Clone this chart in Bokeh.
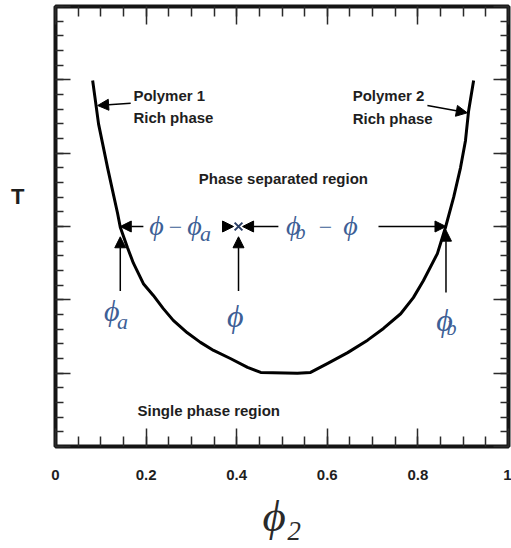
import numpy as np
from bokeh.plotting import figure
from bokeh.models import (Range1d, LinearAxis, FixedTicker, Arrow, NormalHead, Label,
                          CustomLabelingPolicy)
from bokeh.embed import file_html
from bokeh.resources import INLINE

# ---------------- data ----------------
phi_curve = [0.082, 0.088, 0.095, 0.104, 0.115, 0.126, 0.137, 0.143, 0.159, 0.172,
             0.194, 0.216, 0.238, 0.260, 0.291, 0.320, 0.349, 0.386, 0.424, 0.453,
             0.534, 0.563, 0.600, 0.645, 0.689, 0.724, 0.762, 0.790, 0.812, 0.843,
             0.861, 0.879, 0.894, 0.905, 0.912, 0.923]
T_curve = [4.99, 4.72, 4.40, 4.13, 3.80, 3.49, 3.18, 2.99, 2.71, 2.50,
           2.22, 2.06, 1.88, 1.72, 1.55, 1.42, 1.31, 1.20, 1.08, 1.01,
           1.00, 1.01, 1.13, 1.28, 1.45, 1.61, 1.81, 2.03, 2.26, 2.63,
           2.99, 3.40, 3.80, 4.17, 4.58, 4.99]

x_ticks = [0, 0.2, 0.4, 0.6, 0.8, 1.0]
x_tick_labels = ["0", "0.2", "0.4", "0.6", "0.8", "1"]
x_minor = [round(i * 0.05, 2) for i in range(21)]
y_ticks = [0, 1, 2, 3, 4, 5, 6]
y_minor = [round(i * 0.2, 2) for i in range(31)]

phi_a = 0.143
phi_mid = 0.404
phi_b = 0.862
T_tie = 3.0

# ---------------- styles ----------------
SANS = "Liberation Sans"
SERIF = "Liberation Serif"
BLUE = "#3e5f96"
INK = "#1e1e1e"
PHI = "ϕ"

p = figure(width=511, height=548, x_range=Range1d(0, 1), y_range=Range1d(0, 6),
           output_backend="svg", toolbar_location=None,
           x_axis_location=None, y_axis_location=None,
           min_border_left=55, min_border_right=3, min_border_top=6, min_border_bottom=102,
           background_fill_color="white", border_fill_color="white")
p.outline_line_color = "#141414"
p.outline_line_width = 4
p.grid.visible = False

no_labels = CustomLabelingPolicy(code="return []")


def style_axis(ax, major_in, minor_in, show_labels=False):
    ax.axis_line_color = None
    ax.major_tick_in = major_in
    ax.major_tick_out = 0
    ax.minor_tick_in = minor_in
    ax.minor_tick_out = 0
    ax.major_tick_line_color = "#2a2a2a"
    ax.minor_tick_line_color = "#2a2a2a"
    ax.major_tick_line_width = 1.5
    ax.minor_tick_line_width = 1.5
    if not show_labels:
        ax.major_label_policy = no_labels
        ax.major_label_text_font_size = "0px"
        ax.major_label_standoff = 0


xt = FixedTicker(ticks=x_ticks, minor_ticks=x_minor)
yt = FixedTicker(ticks=y_ticks, minor_ticks=y_minor)

xb = LinearAxis(ticker=xt)
style_axis(xb, 18, 10, show_labels=True)
xb.major_label_overrides = {t: s for t, s in zip(x_ticks, x_tick_labels)}
xb.major_label_text_font = SANS
xb.major_label_text_font_style = "bold"
xb.major_label_text_font_size = "15px"
xb.major_label_text_color = INK
xb.major_label_standoff = 23
xb.axis_label = PHI + "₂"
xb.axis_label_text_font = SERIF
xb.axis_label_text_font_style = "italic"
xb.axis_label_text_font_size = "45px"
xb.axis_label_text_color = "#2a2a2a"
xb.axis_label_standoff = 8
p.add_layout(xb, "below")

xa = LinearAxis(ticker=xt)
style_axis(xa, 18, 10)
p.add_layout(xa, "above")

yl = LinearAxis(ticker=yt)
style_axis(yl, 15, 8)
yl.axis_label = "T\n\n"
yl.axis_label_orientation = "horizontal"
yl.axis_label_text_font = SANS
yl.axis_label_text_font_style = "bold"
yl.axis_label_text_font_size = "22px"
yl.axis_label_text_color = INK
yl.axis_label_standoff = 31
p.add_layout(yl, "left")

yr = LinearAxis(ticker=yt)
style_axis(yr, 15, 8)
p.add_layout(yr, "right")

# binodal curve
p.line(phi_curve, T_curve, line_width=3, line_color="black", line_join="round")


def arrow(x0, y0, x1, y1):
    p.add_layout(Arrow(x_start=x0, y_start=y0, x_end=x1, y_end=y1,
                       line_width=1.5, line_color="black",
                       end=NormalHead(size=11, fill_color="black", line_color="black")))


def lab(x, y, text, size, font=SANS, style="bold", color=INK, align="left", baseline="middle"):
    p.add_layout(Label(x=x, y=y, text=text, text_font=font, text_font_style=style,
                       text_font_size=size, text_color=color, text_align=align,
                       text_baseline=baseline))


# pointers to the two branches
arrow(0.166, 4.68, 0.093, 4.65)
arrow(0.821, 4.65, 0.909, 4.55)

# tie line arrows
arrow(0.194, T_tie, phi_a, T_tie)
arrow(0.369, T_tie, 0.393, T_tie)
arrow(0.492, T_tie, 0.413, T_tie)
arrow(0.713, T_tie, phi_b, T_tie)

# vertical arrows
arrow(phi_a, 2.12, phi_a, 2.86)
arrow(phi_mid, 2.12, phi_mid, 2.86)
arrow(phi_b, 2.10, phi_b, 2.95)

p.scatter([phi_mid], [T_tie], marker="x", size=11, line_width=2, line_color="#2b3f66")

# region / branch texts
lab(0.172, 4.79, "Polymer 1", "15px")
lab(0.172, 4.49, "Rich phase", "15px")
lab(0.656, 4.79, "Polymer 2", "15px")
lab(0.656, 4.47, "Rich phase", "15px")
lab(0.503, 3.65, "Phase separated region", "15px", align="center")
lab(0.181, 0.49, "Single phase region", "15px")

# tie line expressions
lab(0.223, 3.01, PHI, "28px", SERIF, "italic", BLUE, "center")
lab(0.265, 2.99, "−", "24px", SERIF, "normal", BLUE, "center")
lab(0.307, 3.01, PHI, "28px", SERIF, "italic", BLUE, "center")
lab(0.331, 2.90, "a", "22px", SERIF, "italic", BLUE, "center")

lab(0.525, 3.01, PHI, "28px", SERIF, "italic", BLUE, "center")
lab(0.541, 2.92, "b", "20px", SERIF, "italic", BLUE, "center")
lab(0.596, 2.99, "−", "24px", SERIF, "normal", BLUE, "center")
lab(0.651, 3.01, PHI, "28px", SERIF, "italic", BLUE, "center")

# composition labels
lab(0.124, 1.85, PHI, "30px", SERIF, "italic", BLUE, "center")
lab(0.148, 1.70, "a", "22px", SERIF, "italic", BLUE, "center")
lab(0.397, 1.78, PHI, "32px", SERIF, "italic", BLUE, "center")
lab(0.859, 1.73, PHI, "32px", SERIF, "italic", BLUE, "center")
lab(0.874, 1.62, "b", "20px", SERIF, "italic", BLUE, "center")

open("out.html", "w").write(file_html(p, INLINE))
